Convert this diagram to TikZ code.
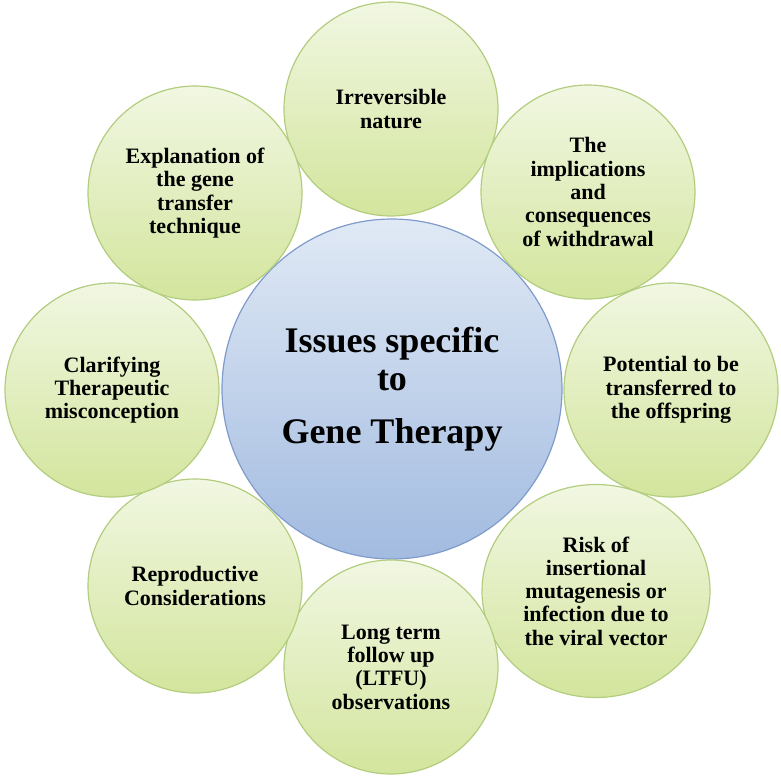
\documentclass[tikz,border=0pt]{standalone}
\usepackage{fontspec}
\setmainfont{Liberation Serif}
\usetikzlibrary{shapes.geometric}
\definecolor{gtop}{HTML}{F1F7E2}
\definecolor{gbot}{HTML}{D3E59D}
\definecolor{gedge}{HTML}{B2CD7E}
\definecolor{btop}{HTML}{E0E9F5}
\definecolor{bbot}{HTML}{A2BBE0}
\definecolor{bedge}{HTML}{7E9BCB}
\begin{document}
\begin{tikzpicture}[x=1pt,y=-1pt,
  outer/.style={circle, minimum size=214pt, inner sep=0pt, draw=gedge, line width=1.2pt,
    top color=gtop, bottom color=gbot, align=center,
    font=\fontsize{22}{23.3}\selectfont\bfseries},
  outerwide/.style={outer, ellipse, minimum width=228pt, minimum height=213pt},
  hub/.style={circle, minimum size=340pt, inner sep=0pt, draw=bedge, line width=1.2pt,
    top color=btop, bottom color=bbot, align=center,
    font=\fontsize{36}{38}\selectfont\bfseries}]
\useasboundingbox (0,0) rectangle (781,782);
\node[hub] (c) at (392,389) {Issues specific\\to\\[15pt]Gene Therapy};
\node[outer] (n1) at (391,109) {Irreversible\\nature};
\node[outer] (n2) at (588,192) {The\\implications\\and\\consequences\\of withdrawal};
\node[outer] (n3) at (671,390) {Potential to be\\transferred to\\the offspring};
\node[outerwide] (n4) at (596,591) {Risk of\\insertional\\mutagenesis or\\infection due to\\the viral vector};
\node[outer] (n5) at (391,667) {Long term\\follow up\\(LTFU)\\observations};
\node[outer] (n6) at (195,586) {Reproductive\\Considerations};
\node[outer] (n7) at (112,390) {Clarifying\\Therapeutic\\misconception};
\node[outer] (n8) at (195,193) {Explanation of\\the gene\\transfer\\technique};
\end{tikzpicture}
\end{document}
